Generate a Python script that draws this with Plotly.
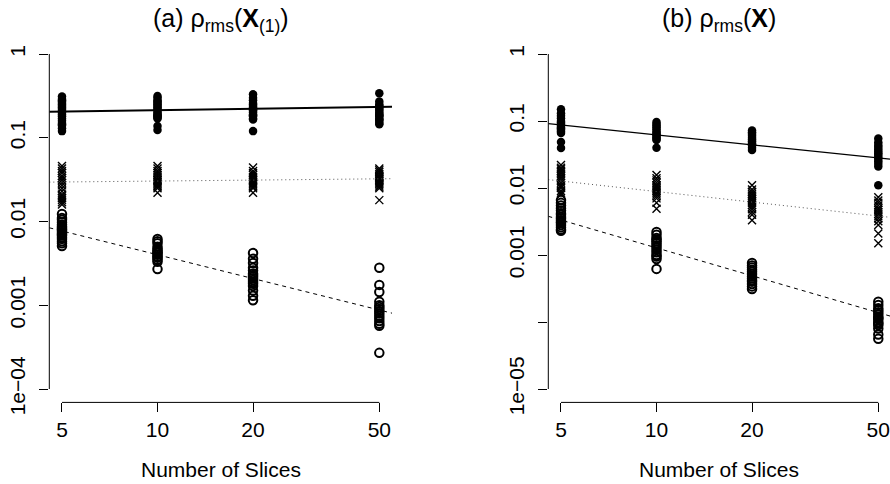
import math
import plotly.graph_objects as go

# ---------------- data ----------------
SLICES = [5, 10, 20, 50]
X_TICKS = [5, 10, 20, 50]
X_TICK_LABELS = ["5", "10", "20", "50"]

A_Y_TICKS = [1e-4, 1e-3, 1e-2, 1e-1, 1]
A_Y_LABELS = ["1e\u221204", "0.001", "0.01", "0.1", "1"]
B_Y_TICKS = [1e-5, 1e-4, 1e-3, 1e-2, 1e-1, 1]
B_Y_LABELS = ["1e\u221205", " ", "0.001", "0.01", "0.1", "1"]

TITLE_A = "(a) \u03c1<sub>rms</sub>(<b>X</b><sub>(1)</sub>)"
TITLE_B = "(b) \u03c1<sub>rms</sub>(<b>X</b>)"
X_TITLE = "Number of Slices"

# panel (a): one list per number of slices
A_FILLED = [
    [0.31, 0.29, 0.28, 0.27, 0.26, 0.25, 0.24, 0.23, 0.22, 0.21, 0.20, 0.19, 0.18, 0.17, 0.16, 0.15, 0.145, 0.14, 0.13, 0.12],
    [0.315, 0.30, 0.28, 0.27, 0.26, 0.25, 0.24, 0.23, 0.22, 0.21, 0.20, 0.19, 0.185, 0.18, 0.175, 0.17, 0.138, 0.124],
    [0.33, 0.30, 0.28, 0.26, 0.25, 0.24, 0.23, 0.22, 0.215, 0.21, 0.20, 0.19, 0.185, 0.18, 0.17, 0.165, 0.12],
    [0.34, 0.27, 0.25, 0.24, 0.23, 0.22, 0.21, 0.20, 0.19, 0.185, 0.18, 0.17, 0.165, 0.16, 0.15, 0.145],
]
A_CROSS = [
    [0.046, 0.043, 0.040, 0.038, 0.035, 0.033, 0.031, 0.029, 0.027, 0.025, 0.023, 0.021, 0.020, 0.019, 0.018, 0.017, 0.016],
    [0.046, 0.043, 0.040, 0.038, 0.036, 0.034, 0.032, 0.031, 0.030, 0.029, 0.028, 0.027, 0.026, 0.025, 0.022],
    [0.044, 0.040, 0.038, 0.036, 0.034, 0.032, 0.031, 0.030, 0.029, 0.028, 0.027, 0.026, 0.025, 0.022],
    [0.043, 0.041, 0.039, 0.037, 0.035, 0.034, 0.033, 0.032, 0.031, 0.030, 0.029, 0.028, 0.027, 0.026, 0.025, 0.018],
]
A_OPEN = [
    [0.0123, 0.011, 0.0105, 0.0098, 0.0092, 0.0088, 0.0085, 0.0082, 0.008, 0.0078, 0.0075, 0.0072, 0.007, 0.0068, 0.0065, 0.0062, 0.0058, 0.0055, 0.0051],
    [0.0062, 0.0058, 0.0055, 0.005, 0.0047, 0.0045, 0.0043, 0.0042, 0.004, 0.0038, 0.0037, 0.0035, 0.0033, 0.0027],
    [0.0042, 0.0036, 0.0032, 0.0028, 0.0026, 0.0024, 0.0023, 0.0022, 0.0021, 0.002, 0.0019, 0.0018, 0.0017, 0.0015, 0.0013, 0.00115],
    [0.0028, 0.00175, 0.00144, 0.0011, 0.001, 0.00095, 0.0009, 0.00085, 0.0008, 0.00075, 0.0007, 0.00065, 0.0006, 0.00057, 0.00027],
]

# panel (b)
B_FILLED = [
    [0.15, 0.13, 0.12, 0.11, 0.10, 0.095, 0.09, 0.085, 0.08, 0.077, 0.074, 0.07, 0.066, 0.0486, 0.0395],
    [0.097, 0.09, 0.085, 0.08, 0.075, 0.07, 0.066, 0.063, 0.06, 0.057, 0.054, 0.052, 0.04],
    [0.072, 0.068, 0.064, 0.06, 0.056, 0.053, 0.05, 0.047, 0.045, 0.043, 0.04, 0.037],
    [0.055, 0.048, 0.044, 0.041, 0.038, 0.035, 0.033, 0.031, 0.029, 0.027, 0.025, 0.023, 0.021, 0.011],
]
B_CROSS = [
    [0.022, 0.02, 0.019, 0.018, 0.017, 0.016, 0.015, 0.014, 0.013, 0.012, 0.011, 0.0105, 0.01, 0.009, 0.0085, 0.008],
    [0.0156, 0.014, 0.013, 0.012, 0.011, 0.0105, 0.01, 0.0095, 0.009, 0.0085, 0.008, 0.0075, 0.007, 0.006, 0.0049],
    [0.011, 0.0095, 0.0088, 0.0082, 0.0077, 0.0072, 0.0068, 0.0064, 0.006, 0.0056, 0.0052, 0.0048, 0.0044, 0.004, 0.0033],
    [0.0073, 0.0065, 0.006, 0.0055, 0.005, 0.0047, 0.0044, 0.0041, 0.0038, 0.0035, 0.0032, 0.0028, 0.0021, 0.0015],
]
B_OPEN = [
    [0.0066, 0.006, 0.0055, 0.005, 0.0046, 0.0042, 0.004, 0.0037, 0.0035, 0.0033, 0.0031, 0.003, 0.0028, 0.0026, 0.0024, 0.0023],
    [0.0022, 0.002, 0.0018, 0.0017, 0.0016, 0.0015, 0.0014, 0.0013, 0.0012, 0.0011, 0.001, 0.00095, 0.00087, 0.00062],
    [0.00076, 0.0007, 0.00065, 0.0006, 0.00056, 0.00052, 0.00048, 0.00045, 0.00042, 0.0004, 0.00037, 0.00034, 0.00031],
    [0.0002, 0.00018, 0.00016, 0.00015, 0.00014, 0.00013, 0.00012, 0.000115, 0.00011, 0.0001, 0.000095, 0.00009, 0.00008, 0.000065, 0.000056],
]

# fitted lines: log10(y) = intercept + slope * log10(x)
A_FIT_FILLED = [-0.725, 0.054]
A_FIT_CROSS = [-1.555, 0.038]
A_FIT_OPEN = [-1.453, -0.944]
B_FIT_FILLED = [-0.716, -0.492]
B_FIT_CROSS = [-1.531, -0.522]
B_FIT_OPEN = [-1.512, -1.382]

# ---------------- figure ----------------
W, H = 890, 484
FONT = "Liberation Sans, Arial, Helvetica, sans-serif"

XR_A = [math.log10(5) - 0.04, math.log10(50) + 0.04]
XR_B = [math.log10(5) - 0.04, math.log10(5) - 0.04 + 1.0769]
YR_A = [-4.16, 0.16]
YR_B = [-5.2, 0.2]

DOM_X_A = [49.3 / W, 392.0 / W]
DOM_X_B = [548.3 / W, 1.0]
DOM_Y = [1 - 402.4 / H, 1 - 40.6 / H]

fig = go.Figure()


def flatten(groups):
    xs, ys = [], []
    for s, vals in zip(SLICES, groups):
        xs += [s] * len(vals)
        ys += vals
    return xs, ys


def add_panel(xa, ya, filled, cross, opn, fits, xr, lw_solid):
    for groups, marker in [
        (filled, dict(symbol="circle", size=8.5, color="black", line=dict(width=0))),
        (cross, dict(symbol="x-thin", size=8, color="black", line=dict(width=1.4, color="black"))),
        (opn, dict(symbol="circle-open", size=8.5, color="black", line=dict(width=2, color="black"))),
    ]:
        xs, ys = flatten(groups)
        fig.add_trace(go.Scatter(x=xs, y=ys, mode="markers", marker=marker, cliponaxis=False,
                                 xaxis=xa, yaxis=ya, showlegend=False, hoverinfo="skip"))
    x0, x1 = 10 ** xr[0], 10 ** xr[1]
    styles = [dict(color="black", width=lw_solid, dash="solid"),
              dict(color="#555555", width=1, dash="1px,3px"),
              dict(color="black", width=1, dash="4px,4px")]
    for (a, b), st in zip(fits, styles):
        ly = [10 ** (a + b * math.log10(v)) for v in (x0, x1)]
        fig.add_trace(go.Scatter(x=[x0, x1], y=ly, mode="lines", line=st,
                                 xaxis=xa, yaxis=ya, showlegend=False, hoverinfo="skip"))


add_panel("x", "y", A_FILLED, A_CROSS, A_OPEN, [A_FIT_FILLED, A_FIT_CROSS, A_FIT_OPEN], XR_A, 2)
add_panel("x2", "y2", B_FILLED, B_CROSS, B_OPEN, [B_FIT_FILLED, B_FIT_CROSS, B_FIT_OPEN], XR_B, 1.2)

tickfont = dict(family=FONT, size=21, color="black")
common_x = dict(type="log", tickvals=X_TICKS, ticktext=X_TICK_LABELS, ticks="outside",
                ticklen=9, tickwidth=1, tickcolor="black", showgrid=False, zeroline=False,
                showline=False, tickfont=tickfont, automargin=False, fixedrange=True,
                ticklabeloverflow="allow", ticklabelstandoff=-1)
common_y = dict(type="log", ticks="outside", ticklen=9, tickwidth=1, tickcolor="black",
                showgrid=False, zeroline=False, showline=False, tickfont=tickfont,
                tickangle=-90, automargin=False, fixedrange=True, ticklabelstandoff=6,
                ticklabeloverflow="allow")

fig.update_layout(
    width=W, height=H, margin=dict(l=0, r=0, t=0, b=0),
    paper_bgcolor="white", plot_bgcolor="white", showlegend=False,
    font=dict(family=FONT, color="black"),
    xaxis=dict(common_x, domain=DOM_X_A, range=XR_A, anchor="y"),
    yaxis=dict(common_y, domain=DOM_Y, range=YR_A, anchor="x",
               tickvals=A_Y_TICKS, ticktext=A_Y_LABELS),
    xaxis2=dict(common_x, domain=DOM_X_B, range=XR_B, anchor="y2"),
    yaxis2=dict(common_y, domain=DOM_Y, range=YR_B, anchor="x2",
                tickvals=B_Y_TICKS, ticktext=B_Y_LABELS),
)

# R-style axis lines spanning first to last tick
shapes = []
for xa, ya, yt, domx in [("x", "y", A_Y_TICKS, DOM_X_A), ("x2", "y2", B_Y_TICKS, DOM_X_B)]:
    shapes.append(dict(type="line", xref=xa, yref="paper",
                       x0=X_TICKS[0], x1=X_TICKS[-1],
                       y0=DOM_Y[0], y1=DOM_Y[0], layer="above",
                       line=dict(color="black", width=1)))
    shapes.append(dict(type="line", xref="paper", yref=ya,
                       x0=domx[0], x1=domx[0], y0=yt[0], y1=yt[-1],
                       layer="above", line=dict(color="black", width=1)))
fig.update_layout(shapes=shapes)

ann = []
for xa, title in [("x", TITLE_A), ("x2", TITLE_B)]:
    ann.append(dict(text=title, xref=xa + " domain", x=0.5, yref="paper", y=1 - 20 / H,
                    xanchor="center", yanchor="middle", showarrow=False,
                    font=dict(family=FONT, size=25, color="black")))
    ann.append(dict(text=X_TITLE, xref=xa + " domain", x=0.5, yref="paper", y=1 - 469 / H,
                    xanchor="center", yanchor="middle", showarrow=False,
                    font=dict(family=FONT, size=21, color="black")))
fig.update_layout(annotations=ann)

fig.write_html("out.html", config={"displayModeBar": False},
               post_script="document.body.style.margin='0';document.body.style.overflow='hidden';")
